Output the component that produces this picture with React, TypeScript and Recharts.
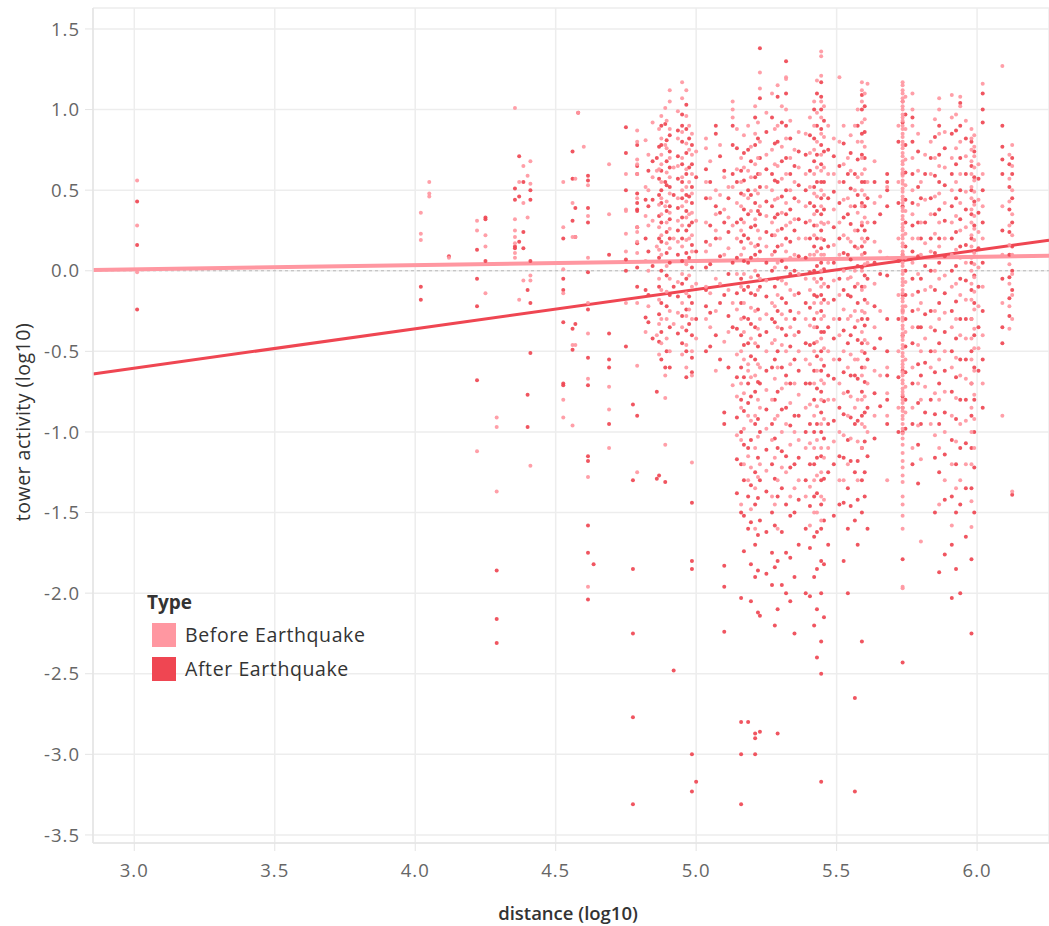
import React from 'react';
import { ScatterChart, Scatter, XAxis, YAxis, CartesianGrid, ReferenceLine, Legend } from 'recharts';

const FONT = '"Open Sans", "Noto Sans", sans-serif';
const BEFORE_COLOR = '#ff97a1';
const AFTER_COLOR = '#ef4652';

const xTicks = [3.0, 3.5, 4.0, 4.5, 5.0, 5.5, 6.0];
const yTicks = [-3.5, -3.0, -2.5, -2.0, -1.5, -1.0, -0.5, 0.0, 0.5, 1.0, 1.5];
const seriesNames = ['Before Earthquake', 'After Earthquake'];

// distance (log10) of each tower column
const columnX = [
  3.01, 4.02, 4.05, 4.12, 4.22, 4.25, 4.29, 4.355, 4.37, 4.385, 4.4, 4.41,
  4.527, 4.56, 4.57, 4.58, 4.6, 4.615, 4.635, 4.69, 4.75, 4.775, 4.79, 4.82,
  4.86, 4.876, 4.89, 4.906, 4.92, 4.95, 4.985, 5.0, 5.035, 5.07, 5.1, 5.13,
  5.16, 5.185, 5.21, 5.227, 5.27, 5.29, 5.32, 5.35, 5.39, 5.42, 5.445, 5.47,
  5.51, 5.54, 5.565, 5.59, 5.61, 5.68, 5.735, 5.77, 5.8, 5.835, 5.865, 5.91,
  5.94, 5.98, 6.02, 6.09, 6.125,
  4.83, 4.845, 4.868, 4.895, 4.935, 4.965, 4.975, 5.05, 5.085, 5.115, 5.145, 5.17,
  5.195, 5.22, 5.25, 5.28, 5.305, 5.335, 5.365, 5.405, 5.43, 5.455, 5.49, 5.525,
  5.55, 5.575, 5.6, 5.635, 5.655, 5.72, 5.745, 5.79, 5.815, 5.85, 5.885, 5.925,
  5.96, 5.99, 6.005, 6.115,
];

// tower activity (log10) before the earthquake, per column
const beforeY = [
  [0.56, 0.28, -0.01],
  [0.36, 0.23, 0.19],
  [0.55, 0.48, 0.46],
  [0.08],
  [0.31, 0.25, -1.12],
  [0.22, 0.15, -0.14],
  [-0.91, -0.97, -1.37],
  [1.01, 0.32, 0.25, 0.21, 0.17, 0.11, 0.08],
  [0.55, -0.18],
  [0.65, 0.42, -0.06],
  [0.59, 0.33],
  [0.68, 0.54, -0.03, -0.06, -1.21],
  [0.55, 0.27, 0.01, -0.14, -0.8, -0.91],
  [0.42, 0.21, -0.46, -0.96],
  [0.57, 0.21, -0.46],
  [0.98],
  [0.77],
  [0.53, 0.34, 0.08, -0.2, -0.39, -0.67, -1.28, -1.96],
  [],
  [0.66, 0.35, -0.72, -0.86, -1.1],
  [0.6, 0.38, 0.37, 0.23, 0.12, -0.2],
  [],
  [0.87, 0.8, 0.69, 0.66, 0.6, 0.45, 0.27, 0.24, 0.18, 0.11, -0.2, -0.59, -1.25],
  [0.81, 0.52, 0.34, 0.06, -0.38],
  [0.62, 0.15, -0.4],
  [0.96, 0.82, 0.72, 0.66, 0.55, 0.45, 0.35, 0.22, 0.1, -0.12, -0.3, -0.45],
  [1.01, 0.78, 0.4, -0.65, -0.79, -1.08],
  [1.12, 1.05, 0.88, 0.7, 0.58, 0.48, 0.36, 0.26, 0.14, -0.05, -0.25, -0.5],
  [0.64, 0.2, -0.33],
  [1.17, 1.07, 0.86, 0.7, 0.58, 0.5, 0.4, 0.28, 0.15, -0.02, -0.2, -0.35, -0.52],
  [0.85, 0.72, 0.6, 0.48, 0.36, 0.22, 0.12, -0.1, -0.3, -0.5, -0.65, -1.19],
  [0.74, 0.31, -0.08, -0.42],
  [0.82, 0.76, 0.55, 0.3, 0.12, -0.1, -0.3],
  [0.5, 0.35, 0.25, -0.05, -0.25, -0.62],
  [0.58, 0.38, 0.1, -0.44],
  [1.05, 1.0, 0.95, 0.52, 0.28, -0.2, -0.71],
  [0.7, 0.55, 0.4, 0.25, 0.1, -0.1, -0.3, -0.5, -0.7, -0.85, -1.05, -1.45],
  [0.9, 0.62, 0.45, -0.58, -0.62, -0.9, -1.15, -1.3],
  [1.02, 0.85, 0.66, 0.5, 0.32, 0.15, 0.0, -0.25, -0.45, -0.65, -0.9, -1.1, -1.35, -1.6],
  [1.23, 1.13, 0.8, 0.6, 0.4, 0.2, -0.05, -0.3, -0.6, -0.85, -1.2],
  [1.1, 0.75, 0.5, 0.3, 0.1, -0.2, -0.45, -0.8, -1.05, -1.4],
  [1.15, 0.9, 0.65, 0.45, 0.25, 0.05, -0.15, -0.35, -0.6, -0.9, -1.3, -1.6],
  [1.2, 1.19, 1.0, 0.82, 0.6, 0.42, 0.28, 0.12, -0.08, -0.3, -0.5, -0.7, -0.95, -1.25],
  [0.75, 0.55, 0.32, 0.1, -0.15, -0.4, -0.7, -1.0, -1.35],
  [0.85, 0.6, 0.4, 0.2, -0.05, -0.3, -0.55, -0.85, -1.1, -1.4],
  [1.05, 0.9, 0.75, 0.6, 0.48, 0.35, 0.22, 0.1, -0.05, -0.2, -0.35, -0.5, -0.7, -0.9, -1.1, -1.3, -1.5],
  [1.36, 1.33, 1.21, 1.05, 0.95, 0.85, 0.72, 0.62, 0.5, 0.4, 0.3, 0.2, 0.1, 0.0, -0.1, -0.2, -0.3, -0.42, -0.55, -0.68, -0.8, -0.95, -1.1, -1.25, -1.4, -1.55],
  [0.9, 0.6, 0.3, 0.05, -0.2, -0.5, -0.8, -1.1],
  [1.2, 0.8, 0.55, 0.3, 0.1, -0.15, -0.4, -0.7, -1.0, -1.3],
  [0.7, 0.45, 0.2, -0.05, -0.3, -0.6, -0.9, -1.2],
  [0.9, 0.5, 0.25, 0.0, -0.25, -0.55, -0.85],
  [1.17, 1.12, 1.05, 0.92, 0.8, 0.7, 0.6, 0.5, 0.4, 0.3, 0.2, 0.1, 0.0, -0.12, -0.25, -0.38, -0.5, -0.65, -0.8, -0.95, -1.1],
  [1.16, 0.55, 0.3, 0.05, -0.2, -0.45, -0.7, -1.0],
  [0.52, 0.08, -0.6, -0.76, -0.9, -1.3],
  [1.17, 1.15, 1.12, 1.1, 1.07, 1.05, 1.02, 1.0, 0.97, 0.95, 0.93, 0.9, 0.88, 0.85, 0.83, 0.8, 0.78, 0.76, 0.73, 0.71, 0.68, 0.66, 0.63, 0.61, 0.59, 0.56, 0.54, 0.51, 0.49, 0.46, 0.44, 0.42, 0.39, 0.37, 0.34, 0.32, 0.29, 0.27, 0.25, 0.22, 0.2, 0.17, 0.15, 0.12, 0.1, 0.08, 0.05, 0.03, 0.0, -0.02, -0.05, -0.07, -0.09, -0.12, -0.14, -0.17, -0.19, -0.22, -0.24, -0.26, -0.29, -0.31, -0.34, -0.36, -0.39, -0.41, -0.43, -0.46, -0.48, -0.51, -0.53, -0.56, -0.58, -0.6, -0.63, -0.65, -0.68, -0.7, -0.73, -0.75, -0.77, -0.8, -0.82, -0.85, -0.87, -0.9, -0.92, -0.95, -0.98, -1.01, -1.04, -1.08, -1.13, -1.18, -1.22, -1.27, -1.31, -1.4, -1.45, -1.52, -1.6, -1.96, -1.97],
  [1.1, 1.0, 0.9, 0.7, 0.5, 0.35, 0.2, 0.05, -0.15, -0.35, -0.6, -0.85, -1.1],
  [0.55, 0.3, 0.1, -0.2, -0.5, -0.8, -1.17, -1.68],
  [0.8, 0.6, 0.35, 0.12, -0.1, -0.35, -0.6, -0.95],
  [1.07, 1.0, 0.85, 0.65, 0.48, 0.3, 0.15, -0.05, -0.3, -0.55, -0.8, -1.1, -1.45],
  [1.09, 0.95, 0.7, 0.5, 0.3, 0.1, -0.1, -0.35, -0.6, -0.9, -1.2, -1.58],
  [1.08, 1.02, 0.8, 0.6, 0.42, 0.25, 0.08, -0.15, -0.4, -0.65, -0.95, -1.3],
  [0.88, 0.82, 0.75, 0.68, 0.6, 0.52, 0.45, 0.38, 0.3, 0.22, 0.15, 0.08, 0.0, -0.08, -0.18, -0.3, -0.42, -0.55, -0.7, -0.85, -1.0, -1.2, -1.43, -1.59],
  [1.16, 0.6, 0.4, 0.2, -0.1, -0.4, -0.7],
  [1.27, 0.4, 0.1, -0.2, -0.9],
  [0.78, 0.65, 0.5, 0.35, 0.22, 0.1, -0.02, -0.15, -0.3, -1.37],
  [0.72, 0.5, 0.28, 0.0, -0.22],
  [0.92, 0.58, 0.31],
  [0.88, 0.63, 0.41, 0.27, 0.13, -0.05, -0.18, -0.33, -0.52],
  [0.93, 0.76, 0.61, 0.43, 0.3, 0.17, 0.03, -0.13, -0.3, -0.42],
  [0.99, 0.82, 0.65, 0.45, 0.31, 0.18, -0.07, -0.26],
  [1.12, 0.96, 0.79, 0.63, 0.52, 0.43, 0.33, 0.19, 0.04, -0.14, -0.28, -0.46, -0.6],
  [0.9, 0.75, 0.55, 0.35, 0.2, -0.03, -0.24],
  [0.68, 0.45, 0.16, -0.14, -0.35],
  [0.78, 0.47, 0.2, -0.08],
  [0.52, 0.33, 0.14, -0.12, -0.38],
  [0.88, 0.63, 0.42, 0.2, -0.02, -0.24, -0.52, -0.78, -1.02],
  [0.84, 0.64, 0.47, 0.3, 0.14, -0.02, -0.2, -0.38, -0.55, -0.76, -0.98, -1.2],
  [0.77, 0.58, 0.37, 0.17, -0.04, -0.23, -0.42, -0.66, -0.93, -1.22, -1.48],
  [0.92, 0.7, 0.48, 0.25, 0.07, -0.12, -0.36, -0.58, -0.8, -1.03, -1.28],
  [0.98, 0.72, 0.52, 0.34, 0.15, -0.06, -0.27, -0.5, -0.74, -0.98, -1.24],
  [0.88, 0.66, 0.44, 0.22, 0.02, -0.22, -0.43, -0.67, -0.92, -1.16, -1.45],
  [1.02, 0.77, 0.57, 0.36, 0.16, -0.06, -0.27, -0.46, -0.73, -1.0, -1.22],
  [0.93, 0.7, 0.5, 0.3, 0.08, -0.12, -0.35, -0.58, -0.82, -1.08, -1.4],
  [0.86, 0.64, 0.43, 0.2, -0.02, -0.26, -0.5, -0.77, -1.05, -1.3],
  [0.95, 0.73, 0.52, 0.31, 0.1, -0.12, -0.34, -0.58, -0.83, -1.07, -1.34, -1.58],
  [1.18, 0.98, 0.8, 0.64, 0.46, 0.28, 0.12, -0.07, -0.26, -0.44, -0.62, -0.84, -1.05, -1.27, -1.5],
  [1.02, 0.83, 0.64, 0.47, 0.29, 0.1, -0.08, -0.28, -0.48, -0.7, -0.92, -1.16, -1.42],
  [0.82, 0.6, 0.38, 0.16, -0.06, -0.3, -0.55, -0.8, -1.06],
  [0.9, 0.66, 0.44, 0.22, 0.0, -0.24, -0.5, -0.76, -1.02, -1.3],
  [0.84, 0.62, 0.4, 0.18, -0.04, -0.28, -0.52, -0.78, -1.04],
  [1.0, 0.8, 0.58, 0.36, 0.14, -0.08, -0.31, -0.55, -0.8, -1.06, -1.3],
  [1.1, 0.94, 0.77, 0.63, 0.47, 0.33, 0.18, 0.04, -0.1, -0.26, -0.43, -0.6, -0.78, -0.97],
  [0.68, 0.42, 0.18, -0.08, -0.35, -0.62, -0.9],
  [0.46, 0.12, -0.25, -0.65],
  [0.9, 0.55, 0.2, -0.15, -0.5, -0.85],
  [1.08, 0.88, 0.69, 0.53, 0.37, 0.23, 0.08, -0.07, -0.22, -0.38, -0.55, -0.72, -0.88],
  [0.85, 0.62, 0.41, 0.2, -0.02, -0.24, -0.46, -0.7, -0.96],
  [0.72, 0.44, 0.17, -0.12, -0.42, -0.72],
  [0.94, 0.7, 0.46, 0.23, 0.0, -0.25, -0.5, -0.76, -1.02],
  [0.86, 0.64, 0.42, 0.2, -0.03, -0.26, -0.5, -0.75, -1.0, -1.3],
  [0.97, 0.76, 0.55, 0.34, 0.13, -0.08, -0.3, -0.54, -0.79, -1.06, -1.35],
  [0.93, 0.71, 0.49, 0.27, 0.05, -0.18, -0.42, -0.67, -0.93, -1.2],
  [0.84, 0.77, 0.71, 0.64, 0.56, 0.49, 0.41, 0.34, 0.26, 0.19, 0.11, 0.04, -0.04, -0.13, -0.24, -0.36, -0.48, -0.62, -0.77, -0.92, -1.1],
  [0.66, 0.44, 0.24, 0.02, -0.22, -0.48],
  [0.72, 0.57, 0.43, 0.28, 0.16, 0.04, -0.08, -0.22, -0.36],
];

// tower activity (log10) after the earthquake, per column
const afterY = [
  [0.43, 0.16, -0.24],
  [-0.1, -0.18],
  [],
  [0.09],
  [0.13, -0.05, -0.22, -0.68],
  [0.33, 0.32, 0.06],
  [-1.86, -2.16, -2.31],
  [0.51, 0.44, 0.15, 0.14],
  [0.71, 0.46, 0.18],
  [0.55, 0.24, 0.14],
  [-0.12, -0.77, -0.97],
  [0.5, 0.44, 0.06, -0.2, -0.51],
  [0.2, -0.05, -0.12, -0.32, -0.7, -0.71],
  [0.74, 0.57, 0.31, -0.36, -0.49],
  [0.39, 0.21, -0.33],
  [0.98],
  [],
  [0.59, 0.56, 0.39, 0.3, -0.01, -0.24, -0.54, -0.71, -1.15, -1.18, -1.58, -1.75, -2.04],
  [-1.82],
  [0.1, -0.39, -0.55, -0.6, -0.95],
  [0.89, 0.73, 0.5, 0.07, 0.0, -0.47],
  [-0.83, -1.3, -1.85, -2.25, -2.77, -3.31],
  [0.78, 0.65, 0.6, 0.48, 0.42, 0.38, 0.37, 0.27, 0.17, 0.02, -0.1, -0.9],
  [0.44, 0.2, -0.12, -0.29],
  [0.7, -0.75, -1.29],
  [0.9, 0.78, 0.62, 0.5, 0.42, 0.3, 0.18, 0.0, -0.2, -0.38, -0.55],
  [0.91, 0.55, -0.6, -1.31],
  [0.84, 0.74, 0.64, 0.52, 0.4, 0.32, 0.2, 0.05, -0.15, -0.35, -0.6],
  [0.47, -0.1, -2.48],
  [0.97, 0.9, 0.8, 0.66, 0.55, 0.45, 0.33, 0.2, 0.06, -0.08, -0.28, -0.45],
  [0.78, 0.66, 0.52, 0.42, 0.3, 0.16, 0.02, -0.2, -0.4, -0.54, -0.63, -1.44, -1.8, -1.85, -3.0, -3.23],
  [0.58, 0.12, -0.3, -3.17],
  [0.63, 0.45, 0.18, 0.02, -0.12, -0.22, -0.5],
  [0.9, 0.85, 0.4, 0.2, -0.4],
  [0.62, 0.3, -0.15, -0.88, -0.95, -1.83, -1.96, -2.24],
  [0.9, 0.78, 0.6, 0.05, -0.35],
  [0.62, 0.48, 0.32, 0.18, -0.05, -0.2, -0.4, -0.6, -0.8, -1.0, -1.2, -1.5, -2.03, -2.8, -3.0, -3.31],
  [0.75, 0.5, 0.35, 0.2, 0.05, -0.1, -0.3, -0.45, -0.7, -0.82, -1.1, -1.4, -1.6, -2.8],
  [0.95, 0.78, 0.58, 0.42, 0.28, 0.1, -0.15, -0.35, -0.55, -0.75, -0.95, -1.25, -1.45, -1.7, -1.9, -2.87, -2.9, -3.0],
  [1.38, 1.07, 0.7, 0.52, 0.35, 0.12, -0.1, -0.4, -0.7, -1.0, -1.3, -1.55, -2.14, -2.86],
  [0.95, 0.6, 0.4, 0.22, 0.0, -0.3, -0.6, -0.95, -1.2, -1.5, -1.75, -1.95],
  [1.08, 0.8, 0.55, 0.35, 0.15, -0.05, -0.25, -0.5, -0.75, -1.1, -1.4, -1.8, -2.1, -2.87],
  [1.3, 1.1, 0.9, 0.7, 0.5, 0.35, 0.2, 0.02, -0.2, -0.4, -0.65, -0.85, -1.15, -1.45, -1.75, -2.0],
  [0.65, 0.45, 0.25, 0.0, -0.3, -0.55, -0.9, -1.2, -1.5, -1.9, -2.25],
  [0.72, 0.5, 0.3, 0.08, -0.2, -0.45, -0.7, -1.0, -1.3, -1.6, -2.0],
  [1.0, 0.82, 0.68, 0.52, 0.4, 0.28, 0.15, 0.0, -0.15, -0.3, -0.45, -0.62, -0.8, -1.0, -1.2, -1.4, -1.65, -1.9, -2.2],
  [1.17, 1.08, 1.0, 0.88, 0.78, 0.66, 0.55, 0.45, 0.35, 0.25, 0.14, 0.05, -0.05, -0.15, -0.25, -0.38, -0.5, -0.62, -0.75, -0.88, -1.0, -1.15, -1.3, -1.45, -1.6, -1.8, -2.0, -2.3, -2.5, -3.17],
  [0.75, 0.45, 0.15, -0.1, -0.35, -0.65, -0.95, -1.25, -1.7],
  [0.65, 0.42, 0.2, -0.05, -0.3, -0.55, -0.85, -1.15, -1.45],
  [0.6, 0.35, 0.1, -0.15, -0.45, -0.75, -1.05, -1.35, -1.6, -2.0],
  [0.6, 0.4, 0.15, -0.1, -0.35, -0.65, -0.95, -1.25, -1.55, -2.65, -3.23],
  [1.09, 1.0, 0.85, 0.72, 0.55, 0.42, 0.28, 0.15, 0.02, -0.1, -0.3, -0.45, -0.6, -0.75, -0.9, -1.1, -1.3, -1.5, -2.3],
  [0.45, 0.2, -0.05, -0.3, -0.55, -0.85, -1.15, -1.6],
  [0.6, 0.55, 0.5, 0.4, -0.03, -0.3, -0.5, -0.65, -0.8, -0.95],
  [1.05, 0.92, 0.6, 0.4, 0.1, -0.15, -0.25, -0.4, -0.62, -0.78, -0.85, -1.0, -1.79, -2.43],
  [0.95, 0.8, 0.6, 0.42, 0.28, 0.12, -0.05, -0.25, -0.45, -0.7, -0.95, -1.2],
  [0.45, 0.2, -0.05, -0.35, -0.65, -0.95],
  [0.7, 0.45, 0.2, 0.0, -0.25, -0.5, -0.8],
  [0.9, 0.72, 0.55, 0.38, 0.2, 0.05, -0.2, -0.45, -0.7, -0.95, -1.25, -1.87],
  [0.85, 0.6, 0.4, 0.2, 0.0, -0.25, -0.5, -0.75, -1.05, -1.4, -1.7, -2.03],
  [1.04, 0.9, 0.7, 0.5, 0.32, 0.15, -0.05, -0.3, -0.55, -0.8, -1.1, -1.45, -2.0],
  [0.8, 0.65, 0.5, 0.35, 0.2, 0.05, -0.12, -0.3, -0.5, -0.7, -0.9, -1.1, -1.35, -1.79, -2.25],
  [1.1, 1.0, 0.92, 0.5, 0.3, 0.05, -0.25, -0.55, -0.85],
  [0.9, 0.77, 0.69, 0.6, 0.25, -0.05, -0.35, -0.45],
  [0.7, 0.6, 0.45, 0.3, 0.15, 0.0, -0.12, -1.39],
  [0.62, 0.4, 0.12, -0.15, -0.32],
  [0.68, 0.44, 0.03, -0.42],
  [0.77, 0.57, 0.47, 0.34, 0.2, 0.08, -0.1, -0.27, -0.44, -1.27],
  [0.81, 0.68, 0.53, 0.37, 0.24, 0.11, -0.03, -0.22, -0.5],
  [0.87, 0.71, 0.57, 0.39, 0.25, 0.1, -0.16, -0.39],
  [1.03, 0.88, 0.73, 0.6, 0.47, 0.37, 0.25, 0.11, -0.05, -0.24, -0.37, -0.5, -0.66],
  [0.82, 0.64, 0.46, 0.28, 0.08, -0.16, -0.33],
  [0.55, 0.28, 0.04, -0.26, -0.47],
  [0.71, 0.36, 0.09, -0.2, -0.55],
  [0.45, 0.24, -0.02, -0.28, -0.6],
  [0.76, 0.55, 0.3, 0.08, -0.14, -0.36, -0.66, -0.91, -1.17, -1.38],
  [0.73, 0.56, 0.38, 0.22, 0.06, -0.12, -0.29, -0.46, -0.66, -0.87, -1.08, -1.3, -1.52, -1.74],
  [0.68, 0.47, 0.27, 0.08, -0.14, -0.33, -0.53, -0.78, -1.05, -1.33, -1.56, -1.82, -2.05],
  [0.82, 0.6, 0.37, 0.16, -0.03, -0.24, -0.47, -0.69, -0.92, -1.16, -1.41, -1.64, -1.86, -2.12],
  [0.86, 0.63, 0.43, 0.24, 0.05, -0.16, -0.38, -0.62, -0.86, -1.11, -1.37, -1.62, -1.88],
  [0.79, 0.56, 0.33, 0.12, -0.1, -0.32, -0.55, -0.8, -1.04, -1.29, -1.58, -1.84, -2.2],
  [0.92, 0.68, 0.46, 0.26, 0.06, -0.17, -0.36, -0.6, -0.86, -1.12, -1.35, -1.62, -1.95],
  [0.82, 0.6, 0.38, 0.18, -0.02, -0.25, -0.47, -0.7, -0.96, -1.22, -1.52, -1.78, -2.05],
  [0.74, 0.53, 0.32, 0.09, -0.14, -0.38, -0.62, -0.9, -1.16, -1.42, -1.7],
  [0.84, 0.62, 0.42, 0.2, -0.01, -0.23, -0.46, -0.7, -0.95, -1.2, -1.46, -1.72, -2.02],
  [1.1, 0.9, 0.72, 0.55, 0.37, 0.2, 0.03, -0.16, -0.35, -0.53, -0.73, -0.95, -1.16, -1.38, -1.62, -1.85, -2.1, -2.4],
  [0.93, 0.74, 0.55, 0.38, 0.19, 0.01, -0.18, -0.38, -0.59, -0.81, -1.04, -1.29, -1.55, -1.82, -2.15],
  [0.71, 0.49, 0.27, 0.05, -0.18, -0.42, -0.67, -0.93, -1.2, -1.52],
  [0.79, 0.55, 0.33, 0.11, -0.12, -0.37, -0.63, -0.89, -1.16, -1.44, -1.8],
  [0.73, 0.51, 0.29, 0.07, -0.16, -0.4, -0.65, -0.91, -1.18, -1.46],
  [0.9, 0.69, 0.47, 0.25, 0.03, -0.2, -0.43, -0.67, -0.93, -1.18, -1.42, -1.7],
  [1.02, 0.86, 0.7, 0.55, 0.4, 0.25, 0.11, -0.03, -0.18, -0.34, -0.51, -0.69, -0.88, -1.06, -1.25, -1.4],
  [0.55, 0.3, 0.05, -0.22, -0.48, -0.76, -1.04],
  [0.35, -0.02, -0.42, -0.84],
  [0.8, 0.42, 0.06, -0.3, -0.66, -1.0],
  [0.97, 0.78, 0.61, 0.44, 0.3, 0.15, 0.0, -0.15, -0.3, -0.47, -0.63, -0.8, -0.98],
  [0.74, 0.52, 0.3, 0.09, -0.13, -0.35, -0.58, -0.82, -1.08, -1.32],
  [0.6, 0.3, 0.03, -0.27, -0.57, -0.88],
  [0.83, 0.59, 0.35, 0.11, -0.12, -0.37, -0.63, -0.89, -1.16, -1.5],
  [0.76, 0.53, 0.31, 0.09, -0.14, -0.38, -0.62, -0.88, -1.14, -1.42, -1.76],
  [0.87, 0.66, 0.45, 0.24, 0.03, -0.19, -0.42, -0.66, -0.92, -1.2, -1.5, -1.85],
  [0.82, 0.6, 0.38, 0.16, -0.06, -0.3, -0.55, -0.8, -1.07, -1.35, -1.65],
  [0.74, 0.58, 0.43, 0.28, 0.12, -0.03, -0.2, -0.4, -0.6, -0.8, -1.0, -1.22, -1.5],
  [0.57, 0.36, 0.14, -0.1, -0.35, -0.62],
  [0.66, 0.52, 0.38, 0.24, 0.1, -0.04, -0.17, -0.28],
];

// fitted trend lines (endpoints at the axis edges)
const trendBefore = [{ x: 2.853, y: 0.005 }, { x: 6.256, y: 0.093 }];
const trendAfter = [{ x: 2.853, y: -0.64 }, { x: 6.256, y: 0.19 }];

const beforePoints = columnX.flatMap((x, i) => (beforeY[i] || []).map((y) => ({ x, y })));
const afterPoints = columnX.flatMap((x, i) => (afterY[i] || []).map((y) => ({ x, y })));

const makeDot = (color: string) => (props: any) => (
  <circle cx={props.cx} cy={props.cy} r={2} fill={color} fillOpacity={0.92} />
);

const renderLegend = () => (
  <div style={{ position: 'relative', width: 260, height: 100, fontFamily: FONT, color: '#333' }}>
    <div style={{ position: 'absolute', left: 0, top: 0, fontWeight: 700, fontSize: 19, lineHeight: '26px' }}>Type</div>
    {[BEFORE_COLOR, AFTER_COLOR].map((c, i) => (
      <React.Fragment key={i}>
        <div style={{ position: 'absolute', left: 5, top: 34 + i * 34, width: 24, height: 24, background: c }} />
        <div style={{ position: 'absolute', left: 38, top: 34 + i * 34, fontSize: 19.5, lineHeight: '24px', whiteSpace: 'nowrap', letterSpacing: 0.6 }}>
          {seriesNames[i]}
        </div>
      </React.Fragment>
    ))}
  </div>
);

const renderYLabel = () => (
  <text x={22} y={422} transform="rotate(-90 22 422)" textAnchor="middle" dominantBaseline="central"
    fill="#333" fontSize={19.5} letterSpacing={0.5} fontFamily={FONT}>
    tower activity (log10)
  </text>
);

const renderXLabel = () => (
  <text x={568} y={912} textAnchor="middle" dominantBaseline="central"
    fill="#333" fontSize={18.5} fontWeight={600} fontFamily={FONT}>
    distance (log10)
  </text>
);

export default function App() {
  return (
    <div style={{ position: 'absolute', left: 0, top: 0, width: 1049, height: 926, background: '#fff', fontFamily: FONT }}>
      <ScatterChart width={1049} height={926} margin={{ top: 8, right: 0, bottom: 0, left: 0 }}>
        <CartesianGrid stroke="#ededed" strokeWidth={1.5} />
        <XAxis
          type="number"
          dataKey="x"
          domain={[2.853, 6.256]}
          ticks={xTicks}
          allowDataOverflow
          interval={0}
          height={83}
          tickFormatter={(v: number) => v.toFixed(1)}
          tick={{ fill: '#666', fontSize: 18.5, fontFamily: FONT, letterSpacing: 1 }}
          tickSize={8}
          tickMargin={13}
          tickLine={{ stroke: '#e4e4e4' }}
          axisLine={{ stroke: '#e4e4e4', strokeWidth: 1.5 }}
          label={renderXLabel}
        />
        <YAxis
          type="number"
          dataKey="y"
          domain={[-3.55, 1.63]}
          ticks={yTicks}
          allowDataOverflow
          interval={0}
          width={93}
          tickFormatter={(v: number) => v.toFixed(1)}
          tick={{ fill: '#666', fontSize: 18.5, fontFamily: FONT, letterSpacing: 1 }}
          tickSize={8}
          tickMargin={5}
          tickLine={{ stroke: '#e4e4e4' }}
          axisLine={{ stroke: '#e4e4e4', strokeWidth: 1.5 }}
          label={renderYLabel}
        />
        <ReferenceLine y={0} stroke="#b8b8b8" strokeDasharray="3 3" strokeWidth={1} />
        <Scatter name={seriesNames[1]} data={afterPoints} fill={AFTER_COLOR} shape={makeDot(AFTER_COLOR)} isAnimationActive={false} />
        <Scatter name={seriesNames[0]} data={beforePoints} fill={BEFORE_COLOR} shape={makeDot(BEFORE_COLOR)} isAnimationActive={false} />
        <ReferenceLine segment={trendBefore} stroke={BEFORE_COLOR} strokeWidth={4} ifOverflow="visible" />
        <ReferenceLine segment={trendAfter} stroke={AFTER_COLOR} strokeWidth={3} ifOverflow="visible" />
        <Legend
          layout="vertical"
          align="center"
          verticalAlign="middle"
          content={renderLegend}
          wrapperStyle={{ left: 147, top: 589, width: 260, height: 100 }}
        />
      </ScatterChart>
    </div>
  );
}
